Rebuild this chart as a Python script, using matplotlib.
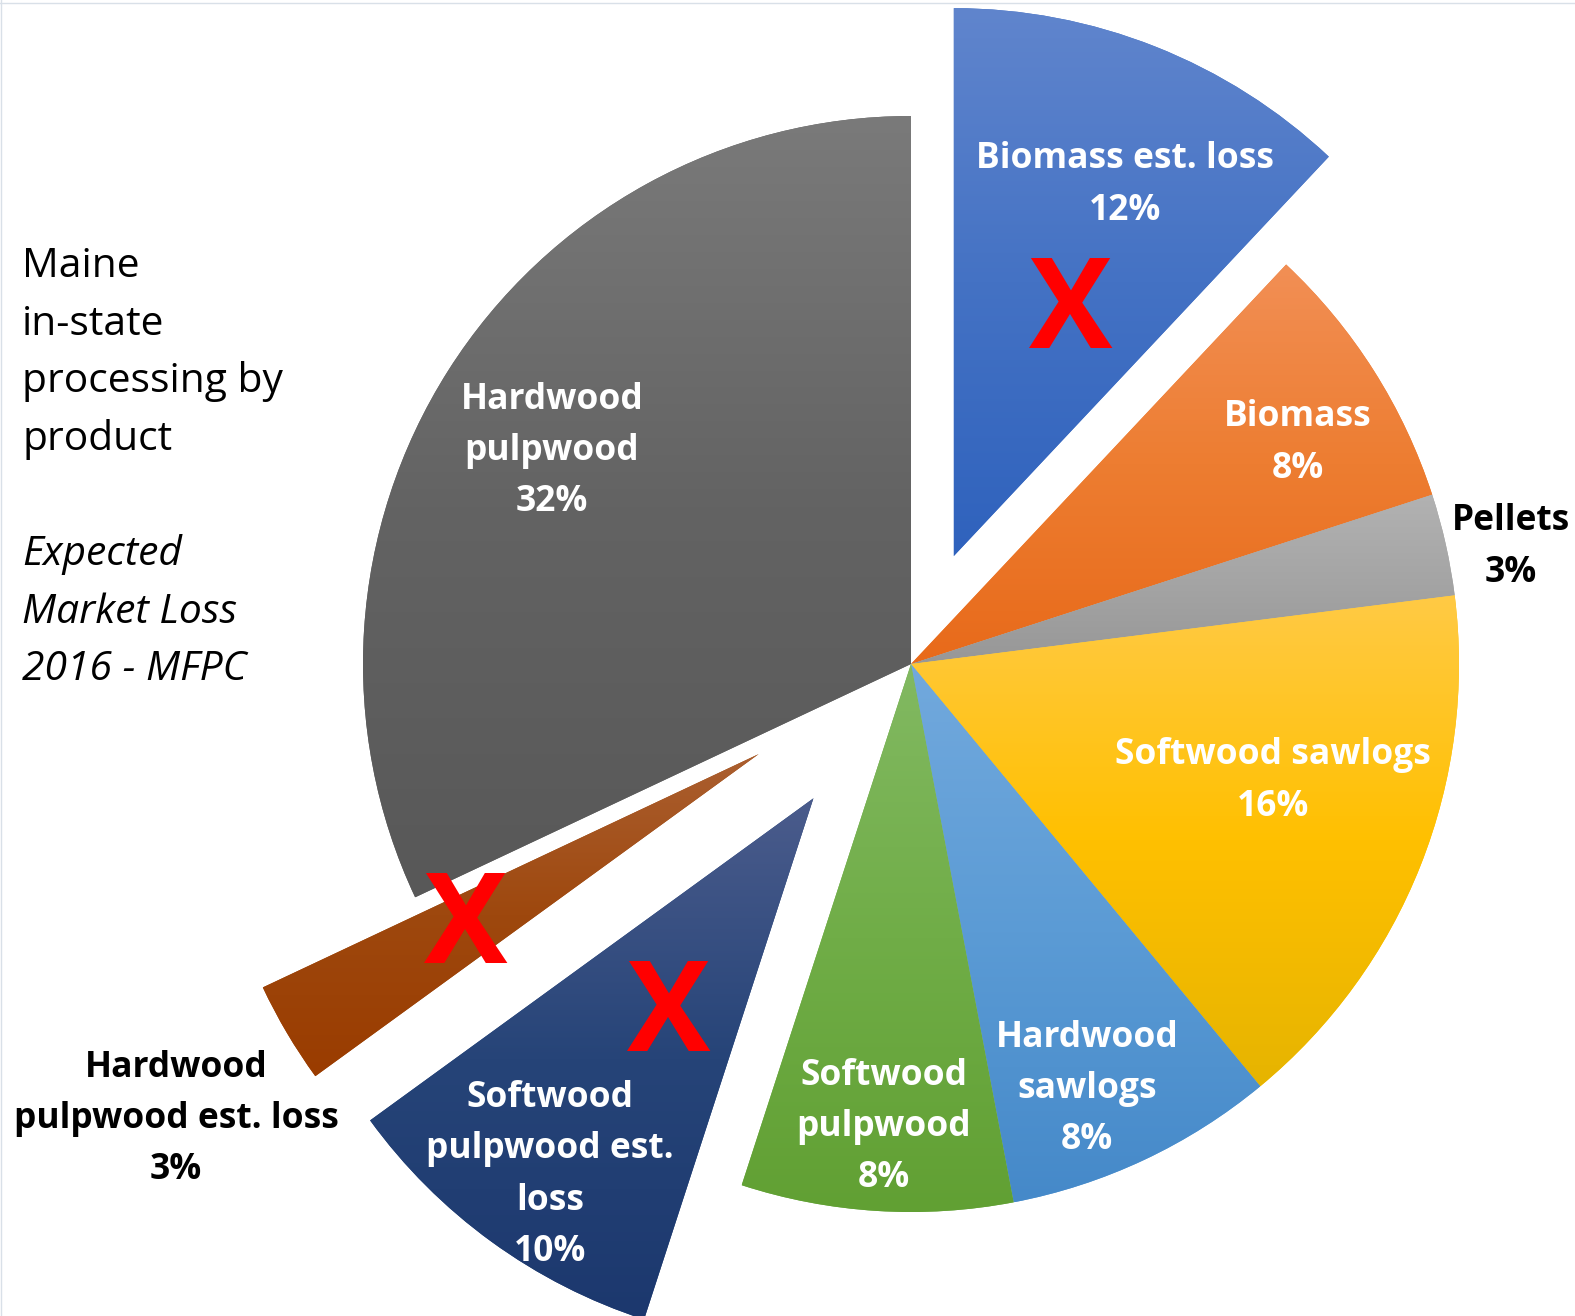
import numpy as np
import matplotlib.pyplot as plt
from matplotlib.colors import to_rgb
from matplotlib.lines import Line2D

# Maine in-state processing by product, share of volume (%)
products = ["Biomass est. loss", "Biomass", "Pellets", "Softwood sawlogs",
            "Hardwood sawlogs", "Softwood pulpwood", "Softwood pulpwood est. loss",
            "Hardwood pulpwood est. loss", "Hardwood pulpwood"]
shares = [12, 8, 3, 16, 8, 8, 10, 3, 32]
lost = [True, False, False, False, False, False, True, True, False]

# label text as it is wrapped on the chart
label_text = ["Biomass est. loss", "Biomass", "Pellets", "Softwood sawlogs",
              "Hardwood\nsawlogs", "Softwood\npulpwood", "Softwood\npulpwood est.\nloss",
              "Hardwood\npulpwood est. loss", "Hardwood\npulpwood"]

side_lines = ["Maine", "in-state", "processing by", "product", "",
              "Expected", "Market Loss", "2016 - MFPC"]

# ---- styling ----
R = 548
explode = [116, 0, 0, 0, 0, 0, 166, 177, 0]   # pulled-out distance in px
base_colors = ['#4472C4', '#ED7D31', '#A5A5A5', '#FFC000', '#5B9BD5',
               '#70AD47', '#264478', '#9E480E', '#636363']
top_colors = ['#6085cd', '#f28f55', '#b2b2b2', '#ffca45', '#72a9dd',
              '#82b962', '#4b5c8c', '#ab5f30', '#7a7a7a']
bottom_colors = ['#2f62bd', '#e86a1a', '#979797', '#e6b400', '#4589c9',
                 '#61a033', '#1c386e', '#9a3c00', '#585858']
label_color = ['white', 'white', 'black', 'white', 'white',
               'white', 'white', 'black', 'white']
# label centres in pixel coords (y up)
label_xy = [(1125, 1131), (1298, 873), (1511, 769), (1273, 535), (1087, 227),
            (884, 189), (550, 141), (176, 197), (552, 865)]
# red crosses over the lost markets
x_marks = [(1071, 1001), (669, 298), (466, 386)]

W, H = 1575, 1316
plt.rcParams['font.family'] = ['Open Sans', 'DejaVu Sans']

fig = plt.figure(figsize=(W / 100, H / 100), dpi=100)
ax = fig.add_axes([0, 0, 1, 1])

wedges, _ = ax.pie(shares, explode=explode, startangle=90, counterclock=False,
                   radius=R, center=(911, 652), colors=base_colors,
                   wedgeprops=dict(linewidth=0))

# vertical gradient inside every slice
t = np.linspace(0, 1, 256)[:, None]
for w, c0, cm, c1 in zip(wedges, top_colors, base_colors, bottom_colors):
    c0, cm, c1 = np.array(to_rgb(c0)), np.array(to_rgb(cm)), np.array(to_rgb(c1))
    grad = np.where(t < 0.5, c0 + (cm - c0) * t * 2, cm + (c1 - cm) * (t - 0.5) * 2)
    bb = w.get_path().get_extents()
    img = ax.imshow(grad[:, None, :], extent=(bb.x0, bb.x1, bb.y0, bb.y1),
                    origin='upper', aspect='auto', interpolation='bilinear', zorder=2)
    img.set_clip_path(w)

for txt, share, (x, y), col in zip(label_text, shares, label_xy, label_color):
    ax.text(x, y, f"{txt}\n{share}%", ha='center', va='center', color=col,
            fontsize=25.5, fontweight='bold', linespacing=1.57, zorder=5)

for x, y in x_marks:
    ax.text(x, y, "X", ha='center', va='center', color='#ff0000',
            fontsize=90, fontweight='bold', zorder=6)

# title block on the left, the last three lines in italics
for i, line in enumerate(side_lines):
    ax.text(22, H - 277 - i * 57.6, line, ha='left', va='baseline',
            fontsize=29.3, fontstyle='italic' if i > 4 else 'normal', color='black')

ax.set_xlim(0, W)
ax.set_ylim(0, H)
ax.axis('off')

# thin frame along the top and left edge
fig.add_artist(Line2D([0, 1], [1 - 2.5 / H, 1 - 2.5 / H], color='#d9e0e8', lw=1.0))
fig.add_artist(Line2D([1 / W, 1 / W], [0, 1], color='#d9e0e8', lw=1.0))

fig.savefig("out.png", dpi=100)
